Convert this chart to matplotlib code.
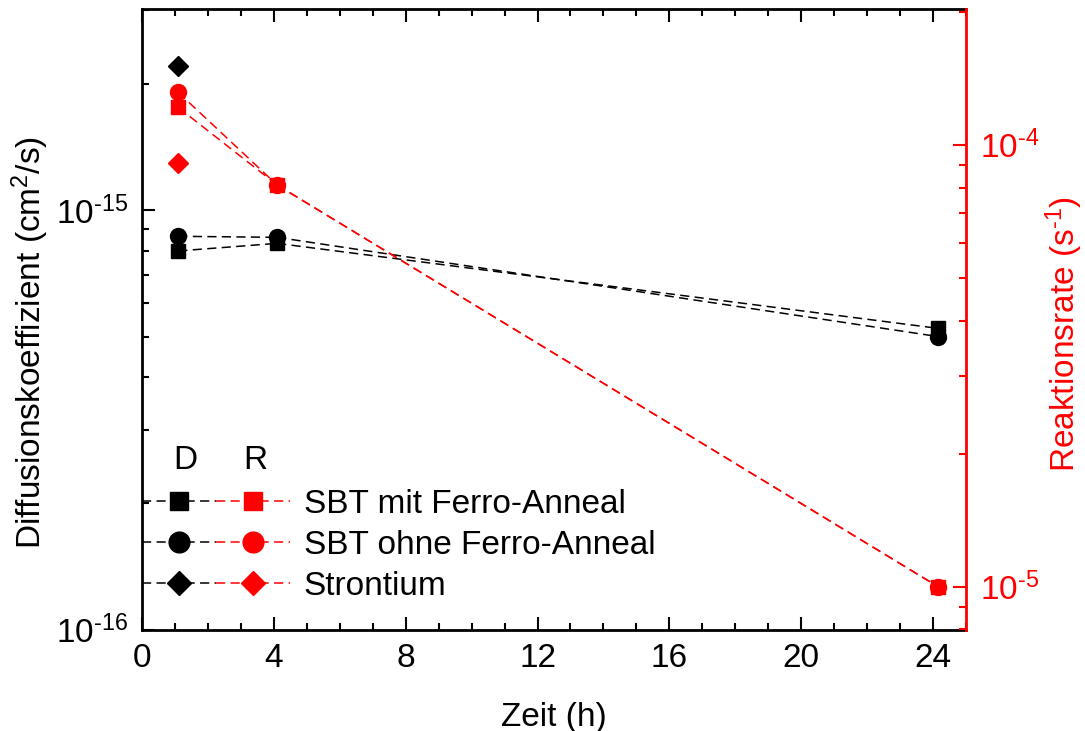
import matplotlib
matplotlib.use('Agg')
import matplotlib.pyplot as plt
from matplotlib.lines import Line2D
from matplotlib.legend_handler import HandlerTuple
from matplotlib.ticker import LogLocator, NullFormatter, MultipleLocator, FuncFormatter
from numpy import log10

## Daten
zeit = [1.1, 4.1, 24.15] # Zeit [h]
d_mit = [8.0e-16, 8.34e-16, 5.23e-16] # D, SBT mit Ferro-Anneal [cm^2/s]
d_ohne = [8.67e-16, 8.62e-16, 5.0e-16] # D, SBT ohne Ferro-Anneal
r_mit = [1.215e-4, 8.11e-5, 1.0e-5] # R, SBT mit Ferro-Anneal [1/s]
r_ohne = [1.314e-4, 8.11e-5, 1.0e-5] # R, SBT ohne Ferro-Anneal
zeit_sr = [1.1] # Strontium
d_sr = [2.21e-15]
r_sr = [9.1e-5]
labels = ['SBT mit Ferro-Anneal', 'SBT ohne Ferro-Anneal', 'Strontium']
d_ticks = [1e-16, 1e-15] # Hauptticks links
r_ticks = [1e-5, 1e-4] # Hauptticks rechts

## Stil
plt.rcParams['font.family'] = ['Liberation Sans', 'DejaVu Sans']
plt.rcParams['font.size'] = 24
plt.rcParams['mathtext.fontset'] = 'custom'
plt.rcParams['mathtext.rm'] = 'Liberation Sans'
plt.rcParams['mathtext.it'] = 'Liberation Sans:italic'
plt.rcParams['mathtext.default'] = 'regular'
plt.rcParams['axes.unicode_minus'] = False

red = '#ff0000'
lw = 1.1
dash = (6, 3.5)
ms_sq, ms_ci, ms_di = 10, 11.5, 9.7

def dekade(v, pos): # 10^-n mit kurzem Bindestrich
    return r'$10^{\text{-}%d}$' % int(round(-log10(v)))

def linie(a, x, y, col, m, ms):
    # jedes Segment einzeln, damit die Strichphase an jedem Punkt neu beginnt
    for k in range(len(x) - 1):
        a.plot(x[k:k+2], y[k:k+2], color=col, lw=lw, dashes=dash)
    a.plot(x, y, color=col, ls='none', marker=m, ms=ms)

fig = plt.figure(figsize=(10.85, 7.31), dpi=100)
ax = fig.add_axes([0.1309, 0.1386, 0.7594, 0.8491])
ax2 = ax.twinx()

# D (linke Achse)
linie(ax, zeit, d_mit, 'k', 's', ms_sq)
linie(ax, zeit, d_ohne, 'k', 'o', ms_ci)
ax.plot(zeit_sr, d_sr, color='k', ls='none', marker='D', ms=ms_di)

# R (rechte Achse)
linie(ax2, zeit, r_mit, red, 's', ms_sq)
linie(ax2, zeit, r_ohne, red, 'o', ms_ci)
ax2.plot(zeit_sr, r_sr, color=red, ls='none', marker='D', ms=ms_di)

## Achsen
ax.set_xlim(0, 25)
ax.set_yscale('log')
ax.set_ylim(1e-16, 3.02e-15)
ax2.set_yscale('log')
ax2.set_ylim(7.99e-6, 2.03e-4)

ax.xaxis.set_major_locator(MultipleLocator(4))
ax.xaxis.set_minor_locator(MultipleLocator(1))
ax.set_yticks(d_ticks)
ax2.set_yticks(r_ticks)
for a in (ax, ax2):
    a.yaxis.set_minor_locator(LogLocator(base=10, subs=range(2, 10), numticks=10))
    a.yaxis.set_minor_formatter(NullFormatter())
    a.yaxis.set_major_formatter(FuncFormatter(dekade))

ax.tick_params(which='both', direction='in', width=1.5, top=True, right=False, color='k')
ax.tick_params(which='major', length=9.5)
ax.tick_params(which='minor', length=5)
ax.tick_params(axis='x', pad=9.5)
ax.tick_params(axis='y', pad=10)
ax2.tick_params(which='both', direction='in', width=1.5, color=red, labelcolor=red, pad=10)
ax2.tick_params(which='major', length=9.5)
ax2.tick_params(which='minor', length=5)

for s in ('left', 'bottom', 'top'):
    ax.spines[s].set_linewidth(2)
    ax2.spines[s].set_visible(False)
ax.spines['right'].set_visible(False)
ax2.spines['right'].set_color(red)
ax2.spines['right'].set_linewidth(2)

ax.set_xlabel('Zeit (h)', labelpad=20)
ax.set_ylabel(r'Diffusionskoeffizient (cm$^2$/s)')
ax.yaxis.set_label_coords(-0.111, 0.462)
ax2.set_ylabel(r'Reaktionsrate (s$^{\text{-}1}$)', color=red)
ax2.yaxis.set_label_coords(1.094, 0.476)

## Legende (D | R)
markers = [('s', ms_sq), ('o', ms_ci), ('D', ms_di)]
handles = []
for m, s in markers:
    hd = Line2D([], [], color='k', lw=lw, dashes=dash, marker=m, ms=s)
    hr = Line2D([], [], color=red, lw=lw, dashes=dash, marker=m, ms=s)
    handles.append((hd, hr))
ax2.legend(handles, labels, handler_map={tuple: HandlerTuple(ndivide=None, pad=0)},
    loc='lower left', bbox_to_anchor=(0, 0.045), frameon=False, borderpad=0,
    borderaxespad=0, handlelength=4.45, handletextpad=0.4, labelspacing=0.3,
    markerscale=1.3, fontsize=24)
ax.text(0.052, 0.272, 'D', transform=ax.transAxes, ha='center', va='center')
ax.text(0.138, 0.272, 'R', transform=ax.transAxes, ha='center', va='center')

fig.savefig('out.png', dpi=100)
